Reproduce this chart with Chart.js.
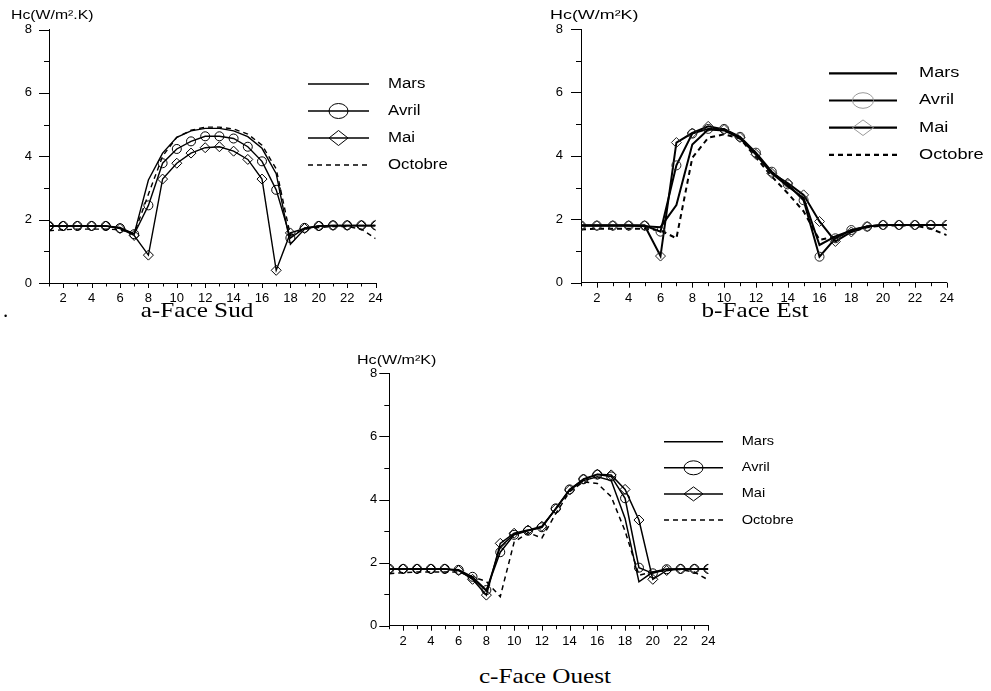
<!DOCTYPE html>
<html>
<head>
<meta charset="utf-8">
<script src="https://cdn.jsdelivr.net/npm/chart.js@4.4.0/dist/chart.umd.min.js"></script>
<style>
  body { margin: 0; background: #fff; width: 991px; height: 691px; position: relative; overflow: hidden;
         font-family: Arial, "Liberation Sans", sans-serif; }
  .box { position: absolute; }
  .unite { position: absolute; font-size: 12px; line-height: 14px; white-space: nowrap; transform-origin: 0 50%; }
  .legende { position: absolute; font-family: "Times New Roman", "Liberation Serif", serif; font-size: 21px;
             line-height: 24px; white-space: nowrap; transform: translateX(-50%) scaleX(1.2); }
</style>
</head>
<body>
<div class="box" style="left:0;top:0;width:480px;height:320px"><canvas id="sud"></canvas></div>
<div class="box" style="left:500px;top:0;width:490px;height:320px"><canvas id="est"></canvas></div>
<div class="box" style="left:330px;top:340px;width:480px;height:320px"><canvas id="ouest"></canvas></div>

<div class="unite" data-w="83" style="left:11px;top:8px">Hc(W/m².K)</div>
<div class="unite" data-w="88" style="left:550px;top:8px">Hc(W/m²K)</div>
<div class="unite" data-w="79" style="left:357px;top:353px">Hc(W/m²K)</div>

<div class="legende" style="left:3px;top:298px;transform:none">.</div>
<div class="legende" style="left:197px;top:298px">a-Face Sud</div>
<div class="legende" style="left:755px;top:298px">b-Face Est</div>
<div class="legende" style="left:545px;top:664px">c-Face Ouest</div>

<script>
// heures de la journee
const heures = [1, 2, 3, 4, 5, 6, 7, 8, 9, 10, 11, 12, 13, 14, 15, 16, 17, 18, 19, 20, 21, 22, 23, 24];
const etiquettesX = [2, 4, 6, 8, 10, 12, 14, 16, 18, 20, 22, 24];
const etiquettesY = [0, 2, 4, 6, 8];
const mois = ['Mars', 'Avril', 'Mai', 'Octobre'];

// a - Face Sud
const marsSud    = [1.8, 1.8, 1.8, 1.8, 1.8, 1.75, 1.55, 3.25, 4.1, 4.6, 4.8, 4.88, 4.88, 4.8, 4.62, 4.25, 3.45, 1.22, 1.7, 1.8, 1.8, 1.8, 1.8, 1.8];
const avrilSud   = [1.8, 1.8, 1.8, 1.8, 1.8, 1.73, 1.54, 2.45, 3.78, 4.23, 4.47, 4.63, 4.63, 4.56, 4.3, 3.84, 2.94, 1.42, 1.74, 1.8, 1.82, 1.82, 1.82, 1.82];
const maiSud     = [1.8, 1.8, 1.8, 1.8, 1.8, 1.72, 1.5, 0.88, 3.28, 3.78, 4.1, 4.27, 4.3, 4.16, 3.9, 3.28, 0.4, 1.58, 1.72, 1.8, 1.82, 1.82, 1.82, 1.82];
const octobreSud = [1.65, 1.68, 1.7, 1.7, 1.7, 1.68, 1.56, 2.8, 4.0, 4.6, 4.82, 4.92, 4.92, 4.86, 4.7, 4.35, 3.6, 1.5, 1.7, 1.75, 1.78, 1.78, 1.7, 1.4];

// b - Face Est
const marsEst    = [1.8, 1.8, 1.8, 1.8, 1.78, 1.75, 2.45, 4.36, 4.83, 4.8, 4.55, 4.05, 3.45, 3.04, 2.67, 1.19, 1.46, 1.65, 1.77, 1.82, 1.82, 1.82, 1.82, 1.82];
const avrilEst   = [1.8, 1.8, 1.8, 1.8, 1.8, 1.61, 3.7, 4.7, 4.85, 4.85, 4.6, 4.1, 3.5, 3.1, 2.6, 0.82, 1.4, 1.66, 1.77, 1.82, 1.82, 1.82, 1.82, 1.82];
const maiEst     = [1.8, 1.8, 1.8, 1.8, 1.8, 0.84, 4.42, 4.72, 4.93, 4.83, 4.58, 4.05, 3.45, 3.14, 2.77, 1.93, 1.3, 1.6, 1.77, 1.82, 1.82, 1.82, 1.82, 1.82];
const octobreEst = [1.68, 1.7, 1.7, 1.7, 1.7, 1.65, 1.4, 3.94, 4.57, 4.68, 4.55, 3.95, 3.35, 2.82, 2.25, 1.35, 1.45, 1.6, 1.75, 1.8, 1.8, 1.8, 1.7, 1.5];

// c - Face Ouest
const marsOuest    = [1.8, 1.8, 1.8, 1.8, 1.8, 1.75, 1.5, 1.1, 2.5, 2.9, 3.02, 3.12, 3.7, 4.3, 4.6, 4.72, 4.6, 3.4, 1.39, 1.7, 1.8, 1.8, 1.8, 1.8];
const avrilOuest   = [1.8, 1.8, 1.8, 1.8, 1.8, 1.77, 1.55, 1.13, 2.33, 2.88, 3.01, 3.12, 3.72, 4.32, 4.64, 4.79, 4.73, 4.04, 1.84, 1.66, 1.79, 1.8, 1.8, 1.8];
const maiOuest     = [1.8, 1.8, 1.8, 1.8, 1.8, 1.75, 1.47, 0.97, 2.61, 2.93, 3.03, 3.15, 3.7, 4.3, 4.65, 4.8, 4.78, 4.32, 3.35, 1.47, 1.75, 1.8, 1.8, 1.8];
const octobreOuest = [1.65, 1.68, 1.7, 1.7, 1.7, 1.7, 1.55, 1.4, 0.92, 2.65, 2.95, 2.78, 3.55, 4.25, 4.56, 4.51, 4.09, 3.0, 1.6, 1.7, 1.75, 1.78, 1.7, 1.45];

// petits traits des axes (grands aux valeurs paires)
const traitsAxes = {
    id: 'traitsAxes',
    afterDraw(chart) {
        const ctx = chart.ctx;
        const x = chart.scales.x, y = chart.scales.y;
        ctx.save();
        ctx.strokeStyle = '#000';
        ctx.lineWidth = 1;
        ctx.beginPath();
        x.ticks.forEach(t => {
            const px = Math.round(x.getPixelForValue(t.value)) + 0.5;
            ctx.moveTo(px, y.bottom);
            ctx.lineTo(px, y.bottom + (t.value % 2 === 0 ? 5 : 3.5));
        });
        y.ticks.forEach(t => {
            const py = Math.round(y.getPixelForValue(t.value)) + 0.5;
            ctx.moveTo(x.left, py);
            ctx.lineTo(x.left - (t.value % 2 === 0 ? 10 : 5), py);
        });
        ctx.stroke();
        ctx.restore();
    }
};

// legende dessinee dans la zone du graphique
const legendeBoite = {
    id: 'legendeBoite',
    afterDraw(chart, args, o) {
        const ctx = chart.ctx;
        chart.data.datasets.forEach((ds, i) => {
            const yy = o.y + i * o.pas;
            const cx = (o.x1 + o.x2) / 2;
            ctx.save();
            ctx.strokeStyle = '#000';
            ctx.lineWidth = o.epaisseur;
            ctx.setLineDash(ds.borderDash || []);
            ctx.beginPath();
            ctx.moveTo(o.x1, yy);
            ctx.lineTo(o.x2, yy);
            ctx.stroke();
            ctx.setLineDash([]);
            ctx.strokeStyle = o.couleurMarque;
            ctx.lineWidth = 1;
            if (ds.pointStyle === 'circle' && ds.pointRadius > 0) {
                ctx.beginPath();
                ctx.ellipse(cx, yy, o.rx, o.ry, 0, 0, Math.PI * 2);
                ctx.stroke();
            } else if (ds.pointStyle === 'rectRot' && ds.pointRadius > 0) {
                ctx.beginPath();
                ctx.moveTo(cx - o.rx, yy);
                ctx.lineTo(cx, yy - o.ry);
                ctx.lineTo(cx + o.rx, yy);
                ctx.lineTo(cx, yy + o.ry);
                ctx.closePath();
                ctx.stroke();
            }
            ctx.fillStyle = '#000';
            ctx.font = o.police + 'px Arial, "Liberation Sans", sans-serif';
            ctx.textBaseline = 'middle';
            ctx.translate(o.tx, yy);
            ctx.scale(o.etire, 1);
            ctx.fillText(ds.label, 0, 0);
            ctx.restore();
        });
    }
};

function points(valeurs) {
    return heures.map((h, i) => ({ x: h, y: valeurs[i] }));
}

function dessiner(id, series, p) {
    const datasets = [
        { label: mois[0], data: points(series[0]), pointRadius: 0, pointStyle: 'circle' },
        { label: mois[1], data: points(series[1]), pointRadius: p.rayon, pointStyle: 'circle' },
        { label: mois[2], data: points(series[2]), pointRadius: p.rayon + 0.5, pointStyle: 'rectRot' },
        { label: mois[3], data: points(series[3]), pointRadius: 0, pointStyle: 'circle', borderDash: [5, 4] }
    ];
    datasets.forEach(ds => {
        ds.borderColor = '#000';
        ds.borderWidth = p.epaisseur;
        ds.pointBorderColor = p.couleurMarque;
        ds.pointBackgroundColor = 'rgba(0,0,0,0)';
        ds.pointBorderWidth = 1;
        ds.tension = 0;
    });

    new Chart(document.getElementById(id), {
        type: 'line',
        data: { datasets: datasets },
        options: {
            responsive: true,
            maintainAspectRatio: false,
            animation: false,
            layout: { padding: p.marges },
            plugins: {
                legend: { display: false },
                tooltip: { enabled: false },
                legendeBoite: p.legende
            },
            scales: {
                x: {
                    type: 'linear',
                    min: 1,
                    max: 24,
                    afterFit: s => { s.height = 30; },
                    ticks: {
                        stepSize: 1,
                        autoSkip: false,
                        maxRotation: 0,
                        padding: p.padX,
                        color: '#000',
                        font: { family: 'Arial, "Liberation Sans", sans-serif', size: p.police },
                        callback: v => etiquettesX.includes(v) ? String(v) : ''
                    },
                    grid: { display: false, drawTicks: false },
                    border: { color: '#000', width: 1 }
                },
                y: {
                    min: 0,
                    max: 8,
                    afterFit: s => { s.width = 40; },
                    ticks: {
                        stepSize: 1,
                        padding: p.padY,
                        color: '#000',
                        font: { family: 'Arial, "Liberation Sans", sans-serif', size: p.police },
                        callback: v => etiquettesY.includes(v) ? String(v) : ''
                    },
                    grid: { display: false, drawTicks: false },
                    border: { color: '#000', width: 1 }
                }
            }
        },
        plugins: [traitsAxes, legendeBoite]
    });
}

dessiner('sud', [marsSud, avrilSud, maiSud, octobreSud], {
    marges: { left: 9, top: 29.5, right: 104.4, bottom: 7 },
    epaisseur: 1.4, rayon: 4.5, couleurMarque: '#000', police: 13, padX: 8, padY: 17,
    legende: { x1: 308, x2: 369, y: 84, pas: 27, tx: 388, epaisseur: 1.3, rx: 9.5, ry: 7.5,
               couleurMarque: '#000', police: 14, etire: 1.2 }
});

dessiner('est', [marsEst, avrilEst, maiEst, octobreEst], {
    marges: { left: 41, top: 29, right: 43.3, bottom: 7.3 },
    epaisseur: 2, rayon: 4.5, couleurMarque: '#222', police: 13, padX: 8, padY: 18,
    legende: { x1: 329, x2: 397, y: 73.3, pas: 27.2, tx: 419, epaisseur: 2.2, rx: 10.5, ry: 7.8,
               couleurMarque: '#999', police: 14, etire: 1.3 }
});

dessiner('ouest', [marsOuest, avrilOuest, maiOuest, octobreOuest], {
    marges: { left: 19.3, top: 33.3, right: 101.7, bottom: 4.3 },
    epaisseur: 1.5, rayon: 4.5, couleurMarque: '#000', police: 13, padX: 8, padY: 12,
    legende: { x1: 334, x2: 393, y: 101.7, pas: 26.1, tx: 411.7, epaisseur: 1.5, rx: 9.5, ry: 7,
               couleurMarque: '#000', police: 13, etire: 1.12 }
});

// ajuster la largeur des titres d'unite
document.querySelectorAll('.unite').forEach(el => {
    const cible = parseFloat(el.dataset.w);
    el.style.transform = 'scaleX(' + (cible / el.offsetWidth).toFixed(3) + ')';
});
</script>
</body>
</html>
